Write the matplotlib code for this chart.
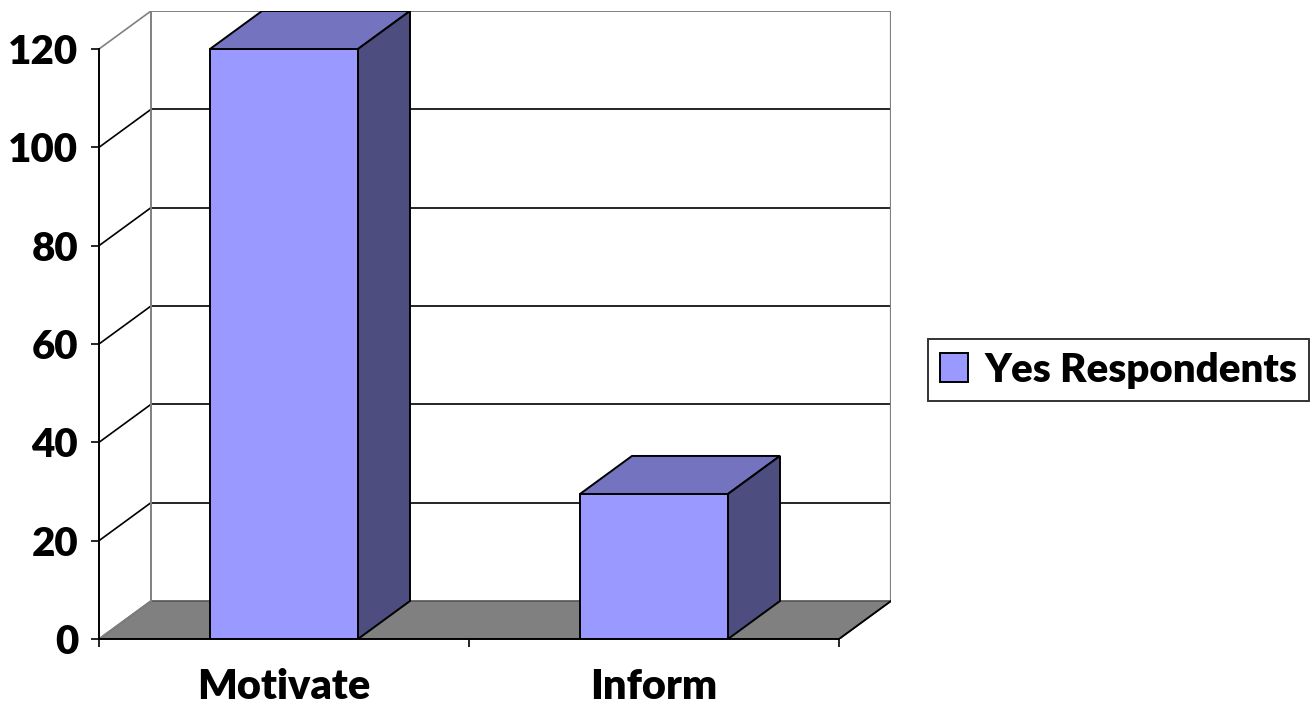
import matplotlib

matplotlib.use("Agg")
import matplotlib.pyplot as plt
from matplotlib.patches import Polygon

plt.rcParams["font.family"] = ["Lato", "DejaVu Sans"]
plt.rcParams["font.weight"] = "heavy"

categories = ["Motivate", "Inform"]
yes_respondents = [120, 29.5]
series_name = "Yes Respondents"
y_ticks = [0, 20, 40, 60, 80, 100, 120]

FRONT = "#9999FF"
TOP = "#7373BF"
SIDE = "#4D4D80"
FLOOR = "#808080"
WALL = "#808080"

# fake 3-D depth, in data units
DX = 0.1405
DY = 7.73
BAR_W = 0.4

fig = plt.figure(figsize=(13.10, 7.11), dpi=100)
ax = fig.add_axes([99 / 1310, 72 / 711, 792 / 1310, 628 / 711])

n = len(categories)
ymax = y_ticks[-1]
ax.set_xlim(0, n + DX)
ax.set_ylim(0, ymax + DY)

# floor
ax.add_patch(Polygon([(0, 0), (n, 0), (n + DX, DY), (DX, DY)], closed=True,
                     facecolor=FLOOR, edgecolor="#555555", lw=1.2, zorder=1))
ax.plot([n, n + DX], [0, DY], color="black", lw=1.3, zorder=1.1)

# back wall gridlines + side diagonals
for v in y_ticks[1:]:
    col = WALL if v == ymax else "black"
    ax.plot([DX, n + DX], [v + DY, v + DY], color=col, lw=1.4 if v == ymax else 1.2,
            zorder=1)
    ax.plot([0, DX], [v, v + DY], color=col, lw=1.2, zorder=1)
ax.plot([0, DX], [0, DY], color=WALL, lw=1.2, zorder=1.1)
ax.plot([DX, DX], [DY, ymax + DY], color=WALL, lw=1.4, zorder=1)
ax.plot([n + DX, n + DX], [DY, ymax + DY], color=WALL, lw=1.6, zorder=1)

# bars: front face via ax.bar, top and side as polygons
xs = [i + 0.5 for i in range(n)]
bars = ax.bar(xs, yes_respondents, width=BAR_W, color=FRONT, edgecolor="black",
              linewidth=1.4, zorder=3, label=series_name)
for x, v in zip(xs, yes_respondents):
    l, r = x - BAR_W / 2, x + BAR_W / 2
    ax.add_patch(Polygon([(l, v), (r, v), (r + DX, v + DY), (l + DX, v + DY)],
                         closed=True, facecolor=TOP, edgecolor="black", lw=1.4, zorder=3))
    ax.add_patch(Polygon([(r, 0), (r + DX, DY), (r + DX, v + DY), (r, v)],
                         closed=True, facecolor=SIDE, edgecolor="black", lw=1.4, zorder=3))

# axes
for s in ["top", "right"]:
    ax.spines[s].set_visible(False)
ax.spines["left"].set_bounds(0, ymax)
ax.spines["bottom"].set_bounds(0, n)
ax.spines["left"].set_linewidth(1.4)
ax.spines["bottom"].set_linewidth(1.4)
ax.spines["left"].set_zorder(4)
ax.spines["bottom"].set_zorder(4)

ax.set_yticks(y_ticks)
ax.tick_params(axis="y", direction="out", length=6, width=1.2, labelsize=29, pad=9)
ax.set_xticks(range(n + 1))
ax.set_xticklabels([])
ax.tick_params(axis="x", which="major", direction="out", length=6, width=1.2)
ax.set_xticks(xs, minor=True)
ax.set_xticklabels(categories, minor=True)
ax.tick_params(axis="x", which="minor", length=0, labelsize=30, pad=21)

leg = fig.legend(handles=[bars], labels=[series_name], loc="center left",
                 bbox_to_anchor=(928 / 1310, 1 - 370 / 711), bbox_transform=fig.transFigure,
                 borderaxespad=0, fontsize=29, frameon=True, fancybox=False,
                 handlelength=0.7, handleheight=0.7, handletextpad=0.4, borderpad=0.3)
leg.get_frame().set_edgecolor("black")
leg.get_frame().set_linewidth(1.4)

fig.savefig("out.png", dpi=100)
